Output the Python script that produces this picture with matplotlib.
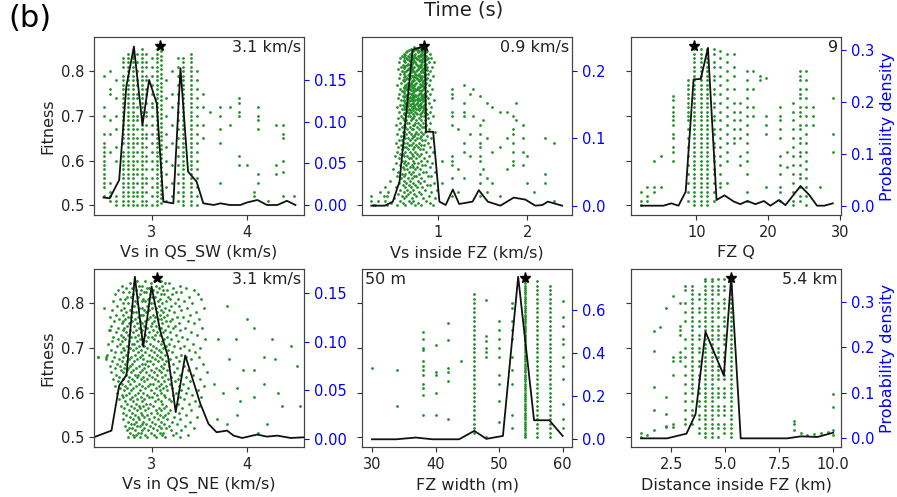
import matplotlib
matplotlib.use('Agg')
import matplotlib.pyplot as plt

# ---------------- Vs in QS_SW ----------------
sw_cols = [
    (2.49, [0.79, 0.72, 0.70, 0.66, 0.64, 0.63, 0.62, 0.61, 0.60, 0.59, 0.58, 0.57, 0.56, 0.55, 0.54, 0.52]),
    (2.555, [0.80, 0.76, 0.75, 0.69, 0.66, 0.62, 0.55, 0.53, 0.52, 0.51]),
    (2.62, [0.78, 0.74, 0.70, 0.67, 0.63, 0.60, 0.52, 0.51, 0.50]),
    (2.69, [0.83, 0.82, 0.81, 0.79, 0.78, 0.77, 0.76, 0.75, 0.74, 0.73, 0.72, 0.71, 0.70, 0.69, 0.68, 0.67, 0.66,
            0.65, 0.64, 0.62, 0.61, 0.60, 0.59, 0.58, 0.57, 0.56, 0.55, 0.54, 0.53, 0.52, 0.51, 0.50]),
    (2.75, [0.84, 0.83, 0.82, 0.81, 0.80, 0.79, 0.78, 0.77, 0.76, 0.75, 0.74, 0.73, 0.72, 0.71, 0.70, 0.69, 0.68,
            0.67, 0.66, 0.65, 0.64, 0.63, 0.62, 0.61, 0.60, 0.59, 0.58, 0.57, 0.56, 0.55, 0.54, 0.53, 0.52, 0.51, 0.50]),
    (2.80, [0.845, 0.84, 0.835, 0.83, 0.82, 0.81, 0.80, 0.79, 0.78, 0.77, 0.76, 0.75, 0.74, 0.73, 0.72, 0.71, 0.70,
            0.69, 0.68, 0.67, 0.66, 0.65, 0.64, 0.63, 0.62, 0.61, 0.60, 0.59, 0.58, 0.57, 0.56, 0.55, 0.54, 0.53,
            0.52, 0.51, 0.50]),
    (2.845, [0.84, 0.82, 0.80, 0.78, 0.77, 0.75, 0.74, 0.72, 0.70, 0.69, 0.67, 0.65, 0.64, 0.62, 0.60, 0.58, 0.57,
             0.55, 0.53, 0.52, 0.50]),
    (2.89, [0.85, 0.84, 0.83, 0.82, 0.81, 0.80, 0.79, 0.78, 0.77, 0.76, 0.75, 0.74, 0.73, 0.72, 0.71, 0.70, 0.69,
            0.68, 0.67, 0.66, 0.65, 0.64, 0.63, 0.62, 0.61, 0.60, 0.59, 0.58, 0.57, 0.56, 0.55, 0.54, 0.53, 0.52,
            0.51, 0.50]),
    (2.94, [0.84, 0.82, 0.81, 0.79, 0.78, 0.76, 0.75, 0.73, 0.71, 0.70, 0.68, 0.66, 0.65, 0.63, 0.61, 0.60, 0.58,
            0.56, 0.55, 0.53, 0.51, 0.50]),
    (3.00, [0.83, 0.81, 0.79, 0.77, 0.75, 0.73, 0.72, 0.70, 0.68, 0.66, 0.64, 0.62, 0.60, 0.58, 0.56, 0.54, 0.52,
            0.50]),
    (3.05, [0.85, 0.84, 0.83, 0.82, 0.81, 0.80, 0.79, 0.78, 0.77, 0.76, 0.75, 0.74, 0.73, 0.72, 0.71, 0.70, 0.69,
            0.68, 0.67, 0.66, 0.65, 0.64, 0.63, 0.62, 0.61, 0.60, 0.59, 0.58, 0.57, 0.56, 0.55, 0.54, 0.53, 0.52,
            0.51, 0.50]),
    (3.095, [0.855, 0.845, 0.835, 0.825, 0.815, 0.805, 0.795, 0.785, 0.775, 0.765, 0.755, 0.745, 0.735, 0.725,
             0.715, 0.705, 0.695, 0.685, 0.675, 0.665, 0.655, 0.645, 0.635, 0.625, 0.615, 0.605, 0.595, 0.585,
             0.575, 0.565, 0.555, 0.545, 0.535, 0.525, 0.515, 0.505]),
    (3.145, [0.78, 0.74, 0.70, 0.66, 0.63, 0.60, 0.57, 0.54, 0.51]),
    (3.21, [0.80, 0.75, 0.72, 0.68, 0.64, 0.59, 0.55, 0.52]),
    (3.27, [0.83, 0.81, 0.79, 0.77, 0.75, 0.73, 0.71, 0.69, 0.67, 0.65, 0.63, 0.61, 0.59, 0.57, 0.55, 0.53, 0.51]),
    (3.33, [0.83, 0.82, 0.81, 0.80, 0.79, 0.78, 0.77, 0.76, 0.75, 0.74, 0.73, 0.72, 0.71, 0.70, 0.69, 0.68, 0.67,
            0.66, 0.65, 0.64, 0.63, 0.62, 0.61, 0.60, 0.59, 0.58, 0.57, 0.56, 0.55, 0.54, 0.53, 0.52, 0.51, 0.50]),
    (3.41, [0.84, 0.83, 0.82, 0.81, 0.80, 0.79, 0.78, 0.77, 0.76, 0.75, 0.74, 0.73, 0.72, 0.71, 0.70, 0.69, 0.68,
            0.67, 0.66, 0.65, 0.64, 0.63, 0.62, 0.61, 0.60, 0.59, 0.58, 0.57, 0.56, 0.55, 0.54, 0.53, 0.52, 0.51,
            0.50]),
    (3.47, [0.80, 0.78, 0.76, 0.74, 0.72, 0.70, 0.68, 0.66, 0.64, 0.62, 0.60, 0.58, 0.56, 0.54, 0.52, 0.50]),
    (3.535, [0.75, 0.72, 0.68, 0.65]),
    (3.61, [0.71]),
    (3.72, [0.72, 0.70, 0.67, 0.64, 0.55]),
    (3.82, [0.72, 0.68]),
    (3.92, [0.74, 0.73, 0.71, 0.70, 0.61, 0.59]),
    (4.00, [0.59]),
    (4.07, [0.53, 0.52]),
    (4.12, [0.72, 0.70, 0.69, 0.67, 0.57, 0.55]),
    (4.22, [0.51]),
    (4.31, [0.68, 0.59, 0.57]),
    (4.38, [0.68, 0.66, 0.65, 0.60, 0.575, 0.52]),
    (4.50, [0.52]),
]
sw_pdf_x = [2.49, 2.555, 2.655, 2.73, 2.81, 2.90, 2.97, 3.05, 3.12, 3.225, 3.30, 3.38, 3.47, 3.54, 3.65, 3.72,
            3.82, 3.93, 4.0, 4.11, 4.21, 4.32, 4.42, 4.51]
sw_pdf = [0.009, 0.008, 0.030, 0.142, 0.190, 0.096, 0.150, 0.122, 0.004, 0.002, 0.164, 0.040, 0.028, 0.002,
          0.0, 0.002, 0.0, 0.0, 0.003, 0.006, 0.0, 0.0, 0.005, 0.0]

# ---------------- Vs inside FZ ----------------
fz_rows = [
    (0.855, [0.74, 0.80, 0.84]),
    (0.850, [0.70, 0.77, 0.82, 0.86]),
    (0.845, [0.66, 0.72, 0.79, 0.83, 0.88]),
    (0.840, [0.63, 0.69, 0.75, 0.81, 0.85, 0.91]),
    (0.835, [0.60, 0.67, 0.71, 0.78, 0.82, 0.87]),
    (0.830, [0.58, 0.65, 0.73, 0.76, 0.84, 0.89, 0.93]),
    (0.825, [0.62, 0.68, 0.70, 0.79, 0.81, 0.86]),
    (0.820, [0.57, 0.64, 0.72, 0.75, 0.83, 0.90, 0.96]),
    (0.815, [0.61, 0.66, 0.69, 0.77, 0.80, 0.85]),
    (0.810, [0.59, 0.63, 0.71, 0.74, 0.82, 0.88, 0.94]),
    (0.805, [0.56, 0.67, 0.70, 0.78, 0.84, 0.87]),
    (0.800, [0.60, 0.65, 0.73, 0.76, 0.81, 0.91]),
    (0.795, [0.58, 0.62, 0.68, 0.75, 0.79, 0.86, 0.89]),
    (0.790, [0.64, 0.71, 0.73, 0.80, 0.83, 0.95]),
    (0.785, [0.57, 0.66, 0.69, 0.77, 0.82, 0.88]),
    (0.780, [0.61, 0.63, 0.72, 0.74, 0.79, 0.85, 0.92]),
    (0.775, [0.59, 0.67, 0.70, 0.76, 0.84, 0.87]),
    (0.770, [0.55, 0.64, 0.68, 0.73, 0.81, 0.83, 0.90]),
    (0.765, [0.62, 0.66, 0.71, 0.78, 0.80, 0.86]),
    (0.760, [0.58, 0.65, 0.69, 0.75, 0.77, 0.84, 0.94]),
    (0.755, [0.60, 0.63, 0.72, 0.74, 0.82, 0.88]),
    (0.750, [0.57, 0.67, 0.70, 0.79, 0.81, 0.85, 0.91]),
    (0.745, [0.61, 0.64, 0.73, 0.76, 0.83, 0.87]),
    (0.740, [0.56, 0.66, 0.68, 0.71, 0.78, 0.84, 0.89]),
    (0.735, [0.59, 0.62, 0.70, 0.75, 0.80, 0.86, 0.96]),
    (0.730, [0.64, 0.67, 0.72, 0.77, 0.82, 0.90]),
    (0.725, [0.58, 0.61, 0.69, 0.74, 0.79, 0.85]),
    (0.720, [0.55, 0.65, 0.71, 0.73, 0.81, 0.84, 0.93]),
    (0.715, [0.60, 0.63, 0.68, 0.76, 0.78, 0.87]),
    (0.710, [0.57, 0.66, 0.70, 0.75, 0.83, 0.86, 0.91]),
    (0.705, [0.62, 0.64, 0.72, 0.77, 0.80, 0.88]),
    (0.700, [0.59, 0.67, 0.69, 0.74, 0.82, 0.85, 0.95]),
    (0.695, [0.56, 0.61, 0.71, 0.73, 0.79, 0.89]),
    (0.690, [0.63, 0.65, 0.70, 0.76, 0.81, 0.86]),
    (0.685, [0.58, 0.66, 0.68, 0.75, 0.78, 0.84, 0.92]),
    (0.680, [0.54, 0.62, 0.72, 0.74, 0.80, 0.87]),
    (0.675, [0.60, 0.64, 0.69, 0.77, 0.83, 0.85]),
    (0.670, [0.57, 0.66, 0.71, 0.73, 0.79, 0.90]),
    (0.665, [0.61, 0.63, 0.68, 0.76, 0.81, 0.86, 0.97]),
    (0.660, [0.55, 0.65, 0.70, 0.75, 0.78, 0.84]),
    (0.655, [0.59, 0.62, 0.72, 0.74, 0.82, 0.88]),
    (0.650, [0.64, 0.67, 0.71, 0.77, 0.80, 0.93]),
    (0.645, [0.57, 0.60, 0.69, 0.75, 0.83, 0.86]),
    (0.640, [0.53, 0.63, 0.66, 0.73, 0.79, 0.89]),
    (0.635, [0.59, 0.68, 0.70, 0.76, 0.81, 0.85]),
    (0.630, [0.56, 0.62, 0.65, 0.74, 0.78, 0.91]),
    (0.625, [0.60, 0.67, 0.72, 0.80, 0.84]),
    (0.620, [0.55, 0.64, 0.69, 0.75, 0.87, 0.95]),
    (0.615, [0.58, 0.61, 0.71, 0.77, 0.82]),
    (0.610, [0.52, 0.63, 0.66, 0.73, 0.79, 0.90]),
    (0.605, [0.57, 0.68, 0.70, 0.76, 0.85]),
    (0.600, [0.60, 0.64, 0.72, 0.81, 0.88]),
    (0.595, [0.54, 0.62, 0.67, 0.74, 0.78, 0.94]),
    (0.590, [0.58, 0.65, 0.71, 0.83, 0.86]),
    (0.585, [0.61, 0.69, 0.73, 0.77, 0.91]),
    (0.580, [0.50, 0.63, 0.66, 0.75, 0.80]),
    (0.575, [0.56, 0.68, 0.72, 0.84, 0.87, 0.97]),
    (0.570, [0.60, 0.64, 0.70, 0.79]),
    (0.565, [0.55, 0.62, 0.74, 0.76, 0.89, 0.93]),
    (0.560, [0.59, 0.67, 0.71, 0.82]),
    (0.555, [0.47, 0.63, 0.69, 0.78, 0.85]),
    (0.550, [0.57, 0.65, 0.73, 0.80, 0.96]),
    (0.545, [0.61, 0.68, 0.75, 0.88, 0.91]),
    (0.540, [0.53, 0.64, 0.70, 0.77, 0.83]),
    (0.535, [0.58, 0.66, 0.72, 0.86, 0.99]),
    (0.530, [0.45, 0.62, 0.69, 0.79, 0.93]),
    (0.525, [0.56, 0.67, 0.74, 0.81]),
    (0.520, [0.40, 0.60, 0.65, 0.76, 0.90]),
    (0.515, [0.51, 0.63, 0.71, 0.84, 0.97]),
    (0.510, [0.34, 0.58, 0.68, 0.73, 0.87]),
    (0.505, [0.48, 0.61, 0.70, 0.78, 0.92]),
    (0.500, [0.28, 0.55, 0.64, 0.75, 0.82, 0.95]),
]
# extra points in the crowded upper core of the cloud
fz_core_rows = [
    (0.8525, [0.75, 0.78, 0.81]),
    (0.8475, [0.68, 0.74, 0.77, 0.85]),
    (0.8425, [0.65, 0.71, 0.78, 0.83, 0.87]),
    (0.8375, [0.64, 0.70, 0.74, 0.80, 0.84]),
    (0.8325, [0.62, 0.68, 0.75, 0.79, 0.86]),
    (0.8275, [0.66, 0.72, 0.77, 0.83, 0.88]),
    (0.8225, [0.63, 0.69, 0.74, 0.80, 0.85]),
    (0.8175, [0.67, 0.71, 0.76, 0.82, 0.87]),
    (0.8125, [0.64, 0.70, 0.78, 0.81, 0.86]),
    (0.8075, [0.62, 0.68, 0.73, 0.79, 0.85]),
    (0.8025, [0.66, 0.71, 0.77, 0.83, 0.88]),
    (0.7975, [0.63, 0.70, 0.74, 0.81, 0.84]),
    (0.7925, [0.67, 0.69, 0.76, 0.78, 0.86]),
    (0.7875, [0.62, 0.72, 0.75, 0.80, 0.85]),
    (0.7825, [0.65, 0.68, 0.77, 0.82, 0.87]),
    (0.7775, [0.63, 0.71, 0.73, 0.79, 0.83]),
    (0.7725, [0.66, 0.70, 0.75, 0.80, 0.86]),
    (0.7675, [0.64, 0.69, 0.74, 0.81, 0.84]),
    (0.7625, [0.62, 0.67, 0.72, 0.78, 0.85]),
    (0.7575, [0.66, 0.70, 0.76, 0.79, 0.83]),
    (0.7525, [0.63, 0.68, 0.73, 0.80, 0.86]),
    (0.7475, [0.65, 0.71, 0.75, 0.78, 0.84]),
    (0.7425, [0.62, 0.69, 0.74, 0.81, 0.85]),
    (0.7375, [0.66, 0.72, 0.77, 0.79, 0.83]),
    (0.7325, [0.63, 0.68, 0.73, 0.78, 0.84]),
    (0.7275, [0.65, 0.70, 0.76, 0.80, 0.86]),
    (0.7225, [0.62, 0.67, 0.74, 0.78, 0.82]),
    (0.7175, [0.64, 0.71, 0.75, 0.80, 0.85]),
    (0.7125, [0.66, 0.69, 0.73, 0.79, 0.84]),
    (0.7075, [0.63, 0.68, 0.76, 0.81, 0.86]),
]
fz_cols = [
    (0.26, [0.51, 0.52]), (0.30, [0.50]), (0.36, [0.53]), (0.41, [0.51, 0.54]), (0.44, [0.50, 0.52]),
    (1.05, [0.60, 0.55]),
    (1.16, [0.76, 0.75, 0.74, 0.71, 0.70, 0.68, 0.61, 0.60, 0.59, 0.56, 0.52]),
    (1.23, [0.67, 0.58, 0.53]),
    (1.30, [0.77, 0.73, 0.71, 0.70, 0.64, 0.62, 0.56]),
    (1.36, [0.75, 0.66, 0.61]),
    (1.40, [0.76, 0.70]),
    (1.47, [0.745, 0.68, 0.66, 0.64, 0.63, 0.61, 0.60, 0.57, 0.55, 0.52]),
    (1.51, [0.69, 0.58]),
    (1.55, [0.73, 0.65, 0.56, 0.53]),
    (1.61, [0.72, 0.62, 0.55]),
    (1.70, [0.71, 0.63, 0.52]),
    (1.78, [0.71, 0.65, 0.58]),
    (1.84, [0.70, 0.67, 0.66, 0.64, 0.62, 0.60, 0.59]),
    (1.88, [0.73, 0.69]),
    (1.95, [0.68, 0.65, 0.62, 0.59]),
    (2.00, [0.61, 0.55]),
    (2.08, [0.53]),
    (2.20, [0.65, 0.57, 0.55]),
    (2.30, [0.64, 0.51]),
]
fz_pdf_x = [0.26, 0.41, 0.50, 0.575, 0.72, 0.815, 0.86, 0.87, 0.95, 1.02, 1.09, 1.17, 1.24, 1.39, 1.46, 1.56,
            1.70, 1.85, 1.98, 2.09, 2.17, 2.23, 2.39]
fz_pdf = [0.0, 0.0, 0.006, 0.036, 0.232, 0.236, 0.237, 0.110, 0.110, 0.006, 0.001, 0.024, 0.0025, 0.006, 0.023,
          0.006, 0.0, 0.012, 0.009, 0.0, 0.001, 0.006, 0.0]

# ---------------- FZ Q ----------------
q_cols = [
    (2.3, [0.53, 0.51, 0.50]),
    (3.1, [0.54, 0.52, 0.51]),
    (4.1, [0.60, 0.54, 0.53]),
    (5.0, [0.61, 0.54]),
    (6.7, [0.745, 0.735, 0.72, 0.71, 0.70, 0.69, 0.68, 0.66, 0.65, 0.63, 0.62, 0.60]),
    (8.8, [0.78, 0.77, 0.76, 0.75, 0.74, 0.73, 0.72, 0.71, 0.70, 0.69, 0.67, 0.65, 0.63, 0.61, 0.59, 0.57, 0.55,
           0.53, 0.51]),
    (9.6, [0.855, 0.85, 0.84, 0.83, 0.82, 0.81, 0.80, 0.79, 0.78, 0.77, 0.76, 0.75, 0.74, 0.73, 0.72, 0.71, 0.70,
           0.69, 0.68, 0.67, 0.66, 0.65, 0.64, 0.63, 0.62, 0.61, 0.60, 0.59, 0.58, 0.57, 0.56, 0.55, 0.54, 0.53,
           0.52, 0.51, 0.50]),
    (10.6, [0.85, 0.84, 0.83, 0.82, 0.81, 0.80, 0.79, 0.78, 0.77, 0.76, 0.75, 0.74, 0.73, 0.72, 0.71, 0.70, 0.69,
            0.68, 0.67, 0.66, 0.65, 0.64, 0.63, 0.62, 0.61, 0.60, 0.59, 0.58, 0.57, 0.56, 0.55, 0.54, 0.53, 0.52,
            0.51, 0.50]),
    (11.5, [0.85, 0.84, 0.83, 0.82, 0.81, 0.80, 0.79, 0.78, 0.77, 0.76, 0.75, 0.74, 0.73, 0.72, 0.71, 0.70, 0.69,
            0.68, 0.67, 0.66, 0.65, 0.64, 0.63, 0.62, 0.61, 0.60, 0.59, 0.58, 0.57, 0.56, 0.55, 0.54, 0.53, 0.52,
            0.51, 0.50]),
    (12.4, [0.85, 0.84, 0.82, 0.81, 0.79, 0.78, 0.76, 0.75, 0.73, 0.72, 0.70, 0.69, 0.67, 0.66, 0.64, 0.63, 0.61,
            0.60, 0.58, 0.57, 0.55, 0.53, 0.51]),
    (13.3, [0.845, 0.83, 0.81, 0.79, 0.77, 0.75, 0.73, 0.71, 0.69, 0.67, 0.65, 0.63, 0.61, 0.59, 0.57, 0.55,
            0.54]),
    (14.3, [0.84, 0.82, 0.80, 0.78, 0.76, 0.74, 0.72, 0.70, 0.68, 0.66, 0.64, 0.62, 0.60, 0.55]),
    (15.2, [0.84, 0.81, 0.79, 0.76, 0.73, 0.71, 0.69, 0.67, 0.65, 0.64]),
    (16.1, [0.73, 0.71, 0.69, 0.67, 0.65, 0.61, 0.59]),
    (17.1, [0.80, 0.78, 0.76, 0.74, 0.72, 0.70, 0.68, 0.66, 0.64, 0.62, 0.60, 0.57, 0.53, 0.51]),
    (17.9, [0.80, 0.76, 0.72, 0.70]),
    (18.8, [0.79, 0.78]),
    (19.7, [0.785, 0.70, 0.68, 0.66, 0.54]),
    (21.6, [0.72, 0.70, 0.69, 0.67, 0.65, 0.61, 0.59, 0.57, 0.54, 0.53, 0.51]),
    (22.6, [0.62, 0.585]),
    (23.5, [0.73, 0.71, 0.69, 0.67, 0.65, 0.63, 0.61, 0.59, 0.57, 0.55, 0.53, 0.51, 0.50]),
    (24.4, [0.80, 0.79, 0.78, 0.76, 0.75, 0.74, 0.72, 0.71, 0.70, 0.68, 0.67, 0.65, 0.64, 0.62, 0.61, 0.59,
            0.57, 0.56, 0.54, 0.52, 0.51]),
    (25.3, [0.80, 0.78, 0.76, 0.74, 0.72, 0.70, 0.68, 0.66, 0.64, 0.62, 0.60, 0.58, 0.56, 0.54, 0.52, 0.50]),
    (26.2, [0.72, 0.70, 0.68]),
    (27.2, [0.54]),
    (29.0, [0.74, 0.66, 0.62]),
]
q_pdf_x = [2.3, 3.1, 5.4, 6.5, 7.5, 8.5, 9.6, 10.6, 11.6, 12.8, 13.9, 15.2, 16.1, 17.1, 18.2, 19.4, 20.3, 21.5,
           22.4, 24.5, 25.7, 26.8, 27.8, 29.0]
q_pdf = [0.0, 0.0, 0.0, 0.0045, 0.0, 0.027, 0.244, 0.245, 0.305, 0.011, 0.020, 0.008, 0.003, 0.009, 0.003,
         0.009, 0.0, 0.011, 0.001, 0.038, 0.021, 0.0, 0.0, 0.0045]

# ---------------- Vs in QS_NE ----------------
ne_rows = [
    (0.850, [2.84, 2.93, 3.02, 3.09]),
    (0.845, [2.77, 2.81, 2.99, 3.14, 3.18]),
    (0.840, [2.68, 2.86, 2.90, 3.04, 3.11, 3.29]),
    (0.835, [2.73, 2.79, 2.95, 2.97, 3.07, 3.22, 3.36]),
    (0.830, [2.64, 2.83, 2.88, 3.01, 3.12, 3.16, 3.44]),
    (0.825, [2.70, 2.76, 2.92, 2.94, 3.05, 3.25, 3.31]),
    (0.820, [2.61, 2.80, 2.87, 2.98, 3.10, 3.13, 3.21, 3.48]),
    (0.815, [2.74, 2.78, 2.85, 3.00, 3.03, 3.17, 3.39]),
    (0.810, [2.66, 2.72, 2.91, 2.96, 3.08, 3.19, 3.27, 3.52]),
    (0.805, [2.59, 2.82, 2.89, 2.93, 3.06, 3.15, 3.34]),
    (0.800, [2.69, 2.75, 2.84, 2.99, 3.02, 3.11, 3.24, 3.42]),
    (0.795, [2.63, 2.79, 2.81, 2.95, 3.07, 3.20, 3.28]),
    (0.790, [2.49, 2.71, 2.86, 2.90, 3.00, 3.04, 3.14, 3.37, 3.55]),
    (0.785, [2.58, 2.67, 2.77, 2.92, 2.97, 3.10, 3.18, 3.31]),
    (0.780, [2.73, 2.80, 2.83, 2.94, 3.05, 3.12, 3.23, 3.46]),
    (0.775, [2.62, 2.69, 2.88, 2.91, 3.01, 3.08, 3.16, 3.40]),
    (0.770, [2.56, 2.75, 2.78, 2.85, 2.98, 3.03, 3.13, 3.26, 3.33]),
    (0.765, [2.65, 2.72, 2.82, 2.96, 3.06, 3.09, 3.21, 3.50]),
    (0.760, [2.60, 2.70, 2.79, 2.87, 2.93, 3.02, 3.15, 3.19, 3.38]),
    (0.755, [2.68, 2.76, 2.84, 2.89, 3.00, 3.11, 3.28, 3.44]),
    (0.750, [2.57, 2.74, 2.81, 2.92, 2.99, 3.04, 3.17, 3.24]),
    (0.745, [2.64, 2.71, 2.86, 2.95, 3.07, 3.10, 3.22, 3.35, 3.53]),
    (0.740, [2.55, 2.69, 2.77, 2.83, 2.90, 3.01, 3.14, 3.30]),
    (0.735, [2.62, 2.73, 2.80, 2.88, 2.97, 3.05, 3.12, 3.19, 3.41]),
    (0.730, [2.67, 2.75, 2.85, 2.93, 3.03, 3.08, 3.25, 3.47]),
    (0.725, [2.59, 2.70, 2.78, 2.82, 2.96, 3.00, 3.16, 3.32]),
    (0.720, [2.64, 2.72, 2.87, 2.91, 3.02, 3.13, 3.20, 3.37, 3.56]),
    (0.715, [2.58, 2.68, 2.76, 2.84, 2.94, 3.06, 3.11, 3.27]),
    (0.710, [2.54, 2.66, 2.79, 2.81, 2.89, 2.98, 3.09, 3.18, 3.43]),
    (0.705, [2.63, 2.74, 2.86, 2.92, 3.01, 3.15, 3.23, 3.34]),
    (0.700, [2.69, 2.77, 2.83, 2.95, 3.04, 3.12, 3.29, 3.51]),
    (0.695, [2.57, 2.71, 2.80, 2.88, 2.99, 3.07, 3.17, 3.39]),
    (0.690, [2.61, 2.67, 2.75, 2.85, 2.93, 3.02, 3.10, 3.21, 3.45]),
    (0.685, [2.53, 2.73, 2.82, 2.90, 2.97, 3.05, 3.14, 3.31]),
    (0.680, [2.43, 2.60, 2.70, 2.78, 2.87, 3.00, 3.08, 3.25, 3.36, 3.49]),
    (0.675, [2.52, 2.65, 2.76, 2.84, 2.91, 3.03, 3.11, 3.19, 3.41]),
    (0.670, [2.58, 2.68, 2.74, 2.81, 2.95, 2.98, 3.06, 3.15, 3.28]),
    (0.665, [2.63, 2.72, 2.79, 2.89, 2.93, 3.01, 3.13, 3.22, 3.54]),
    (0.660, [2.56, 2.66, 2.77, 2.86, 2.96, 3.09, 3.18, 3.34]),
    (0.655, [2.61, 2.71, 2.75, 2.83, 2.92, 3.04, 3.12, 3.26, 3.46]),
    (0.650, [2.67, 2.74, 2.80, 2.90, 2.99, 3.07, 3.16, 3.38]),
    (0.645, [2.57, 2.69, 2.78, 2.87, 2.94, 3.02, 3.10, 3.23, 3.58]),
    (0.640, [2.62, 2.73, 2.82, 2.85, 2.97, 3.05, 3.14, 3.30, 3.43]),
    (0.635, [2.65, 2.76, 2.84, 2.91, 3.00, 3.11, 3.20, 3.36]),
    (0.630, [2.59, 2.70, 2.79, 2.88, 2.95, 3.03, 3.17, 3.27, 3.51]),
    (0.625, [2.64, 2.75, 2.81, 2.92, 3.06, 3.13, 3.24, 3.40]),
    (0.620, [2.68, 2.77, 2.86, 2.98, 3.01, 3.09, 3.19, 3.33]),
    (0.615, [2.61, 2.72, 2.83, 2.90, 2.96, 3.07, 3.15, 3.28, 3.55]),
    (0.610, [2.66, 2.74, 2.80, 2.93, 3.04, 3.12, 3.21, 3.38]),
    (0.605, [2.71, 2.78, 2.87, 2.99, 3.08, 3.16, 3.31, 3.48]),
    (0.600, [2.63, 2.76, 2.85, 2.91, 3.02, 3.10, 3.25, 3.36]),
    (0.595, [2.68, 2.73, 2.82, 2.95, 3.05, 3.13, 3.22, 3.42]),
    (0.590, [2.70, 2.79, 2.88, 2.97, 3.00, 3.14, 3.29, 3.52]),
    (0.585, [2.65, 2.77, 2.84, 2.92, 3.06, 3.18, 3.34]),
    (0.580, [2.72, 2.80, 2.89, 3.03, 3.09, 3.20, 3.45]),
    (0.575, [2.74, 2.83, 2.94, 2.98, 3.11, 3.27, 3.39]),
    (0.570, [2.67, 2.78, 2.86, 2.91, 3.01, 3.15, 3.24, 3.50]),
    (0.565, [2.71, 2.81, 2.87, 2.96, 3.07, 3.13, 3.32]),
    (0.560, [2.76, 2.84, 2.93, 3.04, 3.10, 3.19, 3.41]),
    (0.555, [2.69, 2.79, 2.88, 2.99, 3.05, 3.17, 3.28]),
    (0.550, [2.73, 2.82, 2.90, 2.95, 3.08, 3.14, 3.36]),
    (0.545, [2.77, 2.85, 2.92, 3.02, 3.12, 3.23, 3.47]),
    (0.540, [2.70, 2.80, 2.86, 2.97, 3.06, 3.16, 3.30]),
    (0.535, [2.75, 2.83, 2.91, 3.00, 3.09, 3.21, 3.40]),
    (0.530, [2.78, 2.81, 2.89, 2.94, 3.03, 3.13, 3.26]),
    (0.525, [2.72, 2.84, 2.87, 2.98, 3.07, 3.18, 3.35]),
    (0.520, [2.76, 2.79, 2.92, 3.01, 3.10, 3.15, 3.44]),
    (0.515, [2.74, 2.82, 2.90, 2.96, 3.05, 3.20, 3.31]),
    (0.510, [2.77, 2.85, 2.88, 2.99, 3.08, 3.12, 3.25]),
    (0.505, [2.80, 2.83, 2.93, 3.02, 3.11, 3.22, 3.38]),
    (0.500, [2.75, 2.81, 2.87, 2.95, 3.04, 3.14, 3.29]),
]
ne_cols = [
    (2.43, [0.68]), (2.52, [0.68]), (2.556, [0.74]), (3.65, [0.62]), (3.68, [0.54]), (3.70, [0.72]),
    (3.75, [0.60]), (3.79, [0.794, 0.53]), (3.81, [0.675]), (3.88, [0.72]), (3.89, [0.61, 0.55]),
    (3.93, [0.58]), (3.96, [0.65]), (4.00, [0.765]), (4.07, [0.745, 0.65, 0.59]), (4.12, [0.51]),
    (4.18, [0.68, 0.62]), (4.21, [0.53]), (4.26, [0.72]), (4.30, [0.675]), (4.33, [0.60]), (4.37, [0.57]),
    (4.46, [0.705]), (4.53, [0.66]), (4.56, [0.57]),
]
ne_pdf_x = [2.387, 2.574, 2.655, 2.732, 2.82, 2.908, 2.996, 3.085, 3.17, 3.25, 3.35, 3.51, 3.595, 3.68, 3.79,
            3.86, 3.95, 4.106, 4.21, 4.32, 4.46, 4.6]
ne_pdf = [0.0017, 0.0086, 0.055, 0.066, 0.167, 0.095, 0.157, 0.112, 0.0845, 0.0276, 0.086, 0.036, 0.0155,
          0.0069, 0.0086, 0.0034, 0.001, 0.0045, 0.0024, 0.0034, 0.001, 0.0017]

# ---------------- FZ width ----------------
w_cols = [
    (30, [0.655]),
    (34, [0.651, 0.569]),
    (38, [0.735, 0.72, 0.70, 0.695, 0.67, 0.66, 0.65, 0.64, 0.62, 0.61, 0.595, 0.55]),
    (40, [0.707, 0.647, 0.64, 0.60, 0.55]),
    (42, [0.755, 0.717, 0.655, 0.645, 0.627, 0.54]),
    (44, [0.67]),
    (46, [0.82, 0.81, 0.80, 0.79, 0.78, 0.77, 0.76, 0.75, 0.74, 0.73, 0.72, 0.71, 0.70, 0.69, 0.68, 0.67, 0.66,
          0.65, 0.64, 0.63, 0.62, 0.61, 0.60, 0.59, 0.58, 0.57, 0.56, 0.55, 0.54, 0.53, 0.52, 0.51]),
    (48, [0.807, 0.727, 0.715, 0.70, 0.69, 0.68, 0.50]),
    (50, [0.76, 0.74, 0.72, 0.70, 0.68, 0.64, 0.62, 0.58, 0.535]),
    (52, [0.80, 0.79, 0.76, 0.74, 0.72, 0.68, 0.65, 0.62, 0.55, 0.52]),
    (54, [0.855, 0.85, 0.845, 0.84, 0.835, 0.83, 0.825, 0.82, 0.815, 0.81, 0.805, 0.80, 0.795, 0.79, 0.785,
          0.78, 0.775, 0.77, 0.765, 0.76, 0.755, 0.75, 0.745, 0.74, 0.735, 0.73, 0.725, 0.72, 0.715, 0.71,
          0.705, 0.70, 0.695, 0.69, 0.685, 0.68, 0.675, 0.67, 0.665, 0.66, 0.655, 0.65, 0.645, 0.64, 0.635,
          0.63, 0.625, 0.62, 0.615, 0.61, 0.605, 0.60, 0.595, 0.59, 0.585, 0.58, 0.575, 0.57, 0.565, 0.56,
          0.555, 0.55, 0.545, 0.54, 0.535, 0.53, 0.525, 0.52, 0.515, 0.51, 0.505, 0.50]),
    (56, [0.85, 0.84, 0.83, 0.82, 0.81, 0.80, 0.79, 0.78, 0.77, 0.76, 0.75, 0.74, 0.73, 0.72, 0.71, 0.70, 0.69,
          0.68, 0.67, 0.66, 0.65, 0.64, 0.63, 0.62, 0.61, 0.60, 0.59, 0.58, 0.57, 0.56, 0.55, 0.54, 0.53, 0.52,
          0.51, 0.50]),
    (58, [0.84, 0.83, 0.82, 0.81, 0.80, 0.79, 0.78, 0.77, 0.76, 0.75, 0.74, 0.73, 0.72, 0.71, 0.70, 0.69, 0.68,
          0.67, 0.66, 0.65, 0.64, 0.63, 0.62, 0.61, 0.60, 0.59, 0.58, 0.57, 0.56, 0.55, 0.54, 0.53, 0.52, 0.51,
          0.50]),
    (60, [0.805, 0.77, 0.75, 0.72, 0.71, 0.68, 0.66, 0.63, 0.575, 0.54, 0.52]),
]
w_pdf_x = [30, 33.8, 36.9, 39.5, 43.7, 46.1, 48.0, 50.6, 53.0, 55.5, 57.9, 60]
w_pdf = [0.0, 0.0, 0.008, 0.0, 0.0, 0.039, 0.002, 0.0155, 0.752, 0.088, 0.088, 0.0155]

# ---------------- Distance inside FZ ----------------
d_cols = [
    (1.11, [0.51, 0.50]),
    (1.39, [0.505]),
    (1.73, [0.738, 0.694, 0.612, 0.56, 0.515]),
    (2.00, [0.747]),
    (2.28, [0.79, 0.59, 0.552, 0.526, 0.522]),
    (2.59, [0.816, 0.68, 0.67, 0.64, 0.53, 0.522]),
    (2.89, [0.80, 0.75, 0.74, 0.73, 0.69, 0.68, 0.67]),
    (3.16, [0.84, 0.83, 0.80, 0.78, 0.76, 0.72, 0.70, 0.68, 0.66, 0.64, 0.62, 0.60, 0.58, 0.56, 0.54, 0.53]),
    (3.47, [0.84, 0.83, 0.82, 0.81, 0.80, 0.79, 0.78, 0.77, 0.76, 0.75, 0.74, 0.73, 0.72, 0.71, 0.70, 0.69,
            0.68, 0.67, 0.66, 0.65, 0.64, 0.63, 0.62, 0.61, 0.60, 0.58, 0.56, 0.55, 0.53]),
    (3.78, [0.82, 0.81, 0.79, 0.78, 0.76, 0.75, 0.73, 0.72, 0.70, 0.69, 0.67, 0.66, 0.64, 0.63, 0.61, 0.60,
            0.58, 0.57, 0.55, 0.54, 0.52, 0.51]),
    (4.09, [0.855, 0.85, 0.84, 0.83, 0.82, 0.81, 0.80, 0.79, 0.78, 0.77, 0.76, 0.75, 0.74, 0.73, 0.72, 0.71,
            0.70, 0.69, 0.68, 0.67, 0.66, 0.65, 0.64, 0.63, 0.62, 0.61, 0.60, 0.59, 0.58, 0.57, 0.56, 0.55, 0.54,
            0.53, 0.52, 0.51, 0.50]),
    (4.37, [0.855, 0.85, 0.84, 0.83, 0.82, 0.81, 0.80, 0.79, 0.78, 0.77, 0.76, 0.75, 0.74, 0.73, 0.72, 0.71,
            0.70, 0.69, 0.68, 0.67, 0.66, 0.65, 0.64, 0.63, 0.62, 0.61, 0.60, 0.59, 0.58, 0.57, 0.56, 0.55, 0.54,
            0.53, 0.52, 0.51, 0.50]),
    (4.66, [0.855, 0.84, 0.83, 0.82, 0.80, 0.79, 0.78, 0.77, 0.75, 0.74, 0.73, 0.72, 0.70, 0.69, 0.68, 0.66,
            0.65, 0.64, 0.63, 0.61, 0.60, 0.59, 0.57, 0.56, 0.55, 0.53, 0.52, 0.50]),
    (4.94, [0.855, 0.84, 0.83, 0.81, 0.80, 0.79, 0.77, 0.76, 0.75, 0.73, 0.72, 0.71, 0.69, 0.68, 0.67, 0.65,
            0.64, 0.63, 0.61, 0.60, 0.59, 0.57, 0.56, 0.55, 0.53, 0.52, 0.51]),
    (5.25, [0.855, 0.85, 0.84, 0.83, 0.82, 0.81, 0.80, 0.79, 0.78, 0.77, 0.76, 0.75, 0.74, 0.73, 0.72, 0.71,
            0.70, 0.69, 0.68, 0.67, 0.66, 0.65, 0.64, 0.63, 0.62, 0.61, 0.60, 0.59, 0.58, 0.57, 0.56, 0.55, 0.54,
            0.53, 0.52, 0.51, 0.50]),
    (8.19, [0.537, 0.53, 0.515]),
    (8.50, [0.509]),
    (8.81, [0.506]),
    (9.12, [0.507]),
    (9.43, [0.509]),
    (9.74, [0.511]),
    (10.0, [0.597, 0.567, 0.515, 0.504]),
]
d_pdf_x = [1.11, 2.31, 3.21, 3.63, 4.09, 4.94, 5.28, 5.72, 7.88, 8.5, 9.27, 10.0]
d_pdf = [0.0, 0.0, 0.0103, 0.053, 0.234, 0.138, 0.355, 0.0, 0.0, 0.0044, 0.003, 0.0125]

# best model (star) position and the value written in each panel
best_x = [3.085, 0.852, 9.63, 3.05, 54.0, 5.25]
best_fit = 0.857
notes = ['3.1 km/s', '0.9 km/s', '9', '3.1 km/s', '50 m', '5.4 km']
xlabels = ['Vs in QS_SW (km/s)', 'Vs inside FZ (km/s)', 'FZ Q',
           'Vs in QS_NE (km/s)', 'FZ width (m)', 'Distance inside FZ (km)']


def cols_xy(cols):
    xs, ys = [], []
    for x, fits in cols:
        xs += [x] * len(fits)
        ys += fits
    return xs, ys


def rows_xy(rows):
    xs, ys = [], []
    for y, xl in rows:
        xs += xl
        ys += [y] * len(xl)
    return xs, ys


sw_x, sw_y = cols_xy(sw_cols)
fz_x1, fz_y1 = rows_xy(fz_rows + fz_core_rows)
fz_x2, fz_y2 = cols_xy(fz_cols)
q_x, q_y = cols_xy(q_cols)
ne_x1, ne_y1 = rows_xy(ne_rows)
ne_x2, ne_y2 = cols_xy(ne_cols)
w_x, w_y = cols_xy(w_cols)
d_x, d_y = cols_xy(d_cols)

scat = [(sw_x, sw_y), (fz_x1 + fz_x2, fz_y1 + fz_y2), (q_x, q_y),
        (ne_x1 + ne_x2, ne_y1 + ne_y2), (w_x, w_y), (d_x, d_y)]
pdfs = [(sw_pdf_x, sw_pdf), (fz_pdf_x, fz_pdf), (q_pdf_x, q_pdf),
        (ne_pdf_x, ne_pdf), (w_pdf_x, w_pdf), (d_pdf_x, d_pdf)]

xlims = [(2.39, 4.6), (0.156, 2.5), (0.88, 30.14), (2.39, 4.6), (28.43, 61.47), (0.644, 10.36)]
xticks = [[3, 4], [1, 2], [10, 20, 30], [3, 4], [30, 40, 50, 60], [2.5, 5.0, 7.5, 10.0]]
y2lims = [(-0.012, 0.2015), (-0.0139, 0.251), (-0.018, 0.326),
          (-0.0083, 0.175), (-0.0357, 0.788), (-0.019, 0.372)]
y2ticks = [[0, 0.05, 0.10, 0.15], [0, 0.1, 0.2], [0, 0.1, 0.2, 0.3],
           [0, 0.05, 0.10, 0.15], [0, 0.2, 0.4, 0.6], [0, 0.1, 0.2, 0.3]]

W, H = 897.0, 497.0
lefts = [94, 362, 631]
tops = [37, 269]
aw, ah = 210, 178

fig = plt.figure(figsize=(8.97, 4.97), dpi=100)

for i in range(6):
    r, c = divmod(i, 3)
    ax = fig.add_axes([lefts[c] / W, 1 - (tops[r] + ah) / H, aw / W, ah / H])
    ax.scatter(scat[i][0], scat[i][1], s=4, color='#24912a', linewidths=0)
    ax.plot(best_x[i], best_fit, marker='*', color='k', ms=8, zorder=5)
    ax.set_xlim(xlims[i])
    ax.set_xticks(xticks[i])
    ax.set_ylim(0.478, 0.877)
    ax.set_yticks([0.5, 0.6, 0.7, 0.8])
    ax.tick_params(labelsize=10.5, color='#333333', labelcolor='#222222')
    for sp in ax.spines.values():
        sp.set_color('#444444')
    ax.set_xlabel(xlabels[i], fontsize=11.5, color='#222222')
    if c == 0:
        ax.set_ylabel('Fitness', fontsize=11.5, color='#222222')
    else:
        ax.tick_params(labelleft=False)
    if i == 4:
        ax.text(0.015, 0.985, notes[i], transform=ax.transAxes, ha='left', va='top', fontsize=11.5,
                color='#222222')
    else:
        ax.text(0.985, 0.985, notes[i], transform=ax.transAxes, ha='right', va='top', fontsize=11.5,
                color='#222222')

    ax2 = ax.twinx()
    ax2.plot(pdfs[i][0], pdfs[i][1], color='#111111', lw=1.3)
    ax2.set_ylim(y2lims[i])
    ax2.set_yticks(y2ticks[i])
    ax2.tick_params(axis='y', colors='blue', labelsize=10.5)
    for sp in ax2.spines.values():
        sp.set_color('#444444')
    if c == 2:
        ax2.set_ylabel('Probability density', color='blue', fontsize=11.5)

fig.text(8 / W, 1 - 4 / H, '(b)', fontsize=22, ha='left', va='top')
fig.text(464 / W, 1.0, 'Time (s)', fontsize=14, ha='center', va='top', color='#222222')

fig.savefig('out.png', dpi=100)
